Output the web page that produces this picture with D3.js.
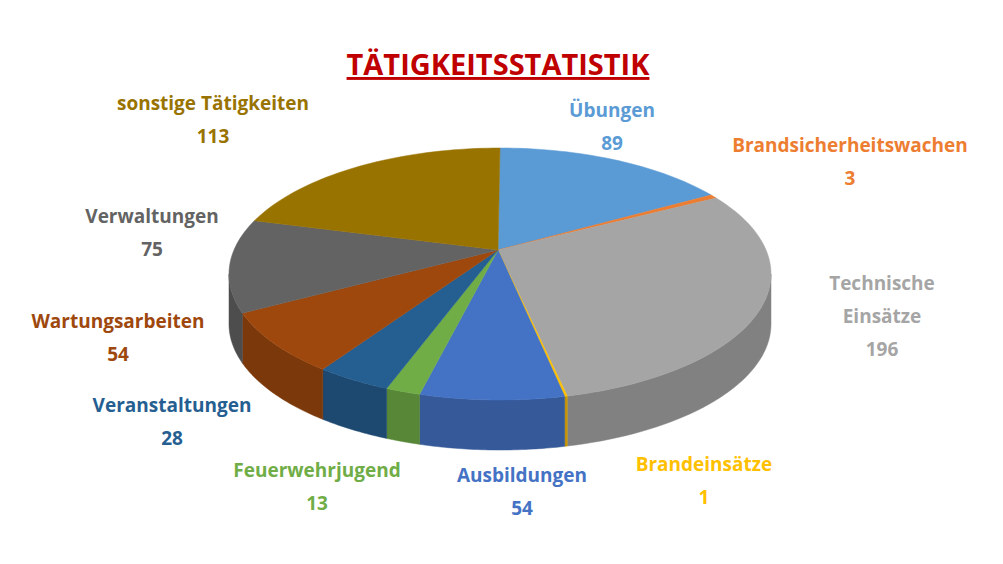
<!DOCTYPE html>
<html><head><meta charset="utf-8">
<script src="https://cdn.jsdelivr.net/npm/d3@7"></script>
<style>body{margin:0;background:#fff}</style>
</head><body>
<svg id="c" width="1003" height="564"></svg>
<script>
const categories = ["Übungen","Brandsicherheitswachen","Technische Einsätze","Brandeinsätze","Ausbildungen","Feuerwehrjugend","Veranstaltungen","Wartungsarbeiten","Verwaltungen","sonstige Tätigkeiten"];
const values = [89,3,196,1,54,13,28,54,75,113];
const colors = ["#5B9BD5","#ED7D31","#A5A5A5","#FFC000","#4472C4","#70AD47","#255E91","#9E480E","#636363","#997300"];
// label lines and anchor spots
const labelLines = [["Übungen","89"],["Brandsicherheitswachen","3"],["Technische","Einsätze","196"],["Brandeinsätze","1"],["Ausbildungen","54"],["Feuerwehrjugend","13"],["Veranstaltungen","28"],["Wartungsarbeiten","54"],["Verwaltungen","75"],["sonstige Tätigkeiten","113"]];
const labelPos = [[612,112],[850,147],[882,285],[704,466],[522,477],[317,472],[172,407],[118,323],[152,218],[213,105]];

const svg = d3.select("#c");
const cx = 500, cy = 274, rx = 271, ry = 126, depth = 50;
const apex = [498, 250]; // perspective: centre sits above the ellipse middle
const pt = (a, dy) => [cx + rx*Math.sin(a), cy - ry*Math.cos(a) + (dy||0)];

const arcs = d3.pie().sort(null).value(d => d)(values);

// sides (front half only)
arcs.forEach((d, i) => {
  const a0 = Math.max(d.startAngle, Math.PI/2), a1 = Math.min(d.endAngle, 3*Math.PI/2);
  if (a1 <= a0) return;
  const n = 40, top = [], bot = [];
  for (let k = 0; k <= n; k++) {
    const a = a0 + (a1-a0)*k/n;
    top.push(pt(a)); bot.push(pt(a, depth));
  }
  const poly = top.concat(bot.reverse());
  svg.append("path").attr("d", "M" + poly.map(p => p.join(",")).join("L") + "Z")
    .attr("fill", d3.color(colors[i]).darker(0.7)).attr("stroke", d3.color(colors[i]).darker(0.7)).attr("stroke-width", 0.5);
});

// tops
arcs.forEach((d, i) => {
  const n = Math.max(2, Math.ceil((d.endAngle-d.startAngle)*40));
  const p = [apex];
  for (let k = 0; k <= n; k++) p.push(pt(d.startAngle + (d.endAngle-d.startAngle)*k/n));
  svg.append("path").attr("d", "M" + p.map(q => q.join(",")).join("L") + "Z")
    .attr("fill", colors[i]).attr("stroke", colors[i]).attr("stroke-width", 0.5);
});

// title
svg.append("text").attr("x", 498).attr("y", 75).attr("text-anchor", "middle")
  .attr("font-family", "Open Sans, sans-serif").attr("font-weight", "bold").attr("font-size", 29)
  .attr("fill", "#C00000").attr("text-decoration", "underline").text("TÄTIGKEITSSTATISTIK");

// labels
labelLines.forEach((lines, i) => {
  const t = svg.append("text").attr("text-anchor", "middle")
    .attr("font-family", "Open Sans, sans-serif").attr("font-weight", "bold").attr("font-size", 19)
    .attr("fill", colors[i]);
  lines.forEach((s, j) => t.append("tspan").attr("x", labelPos[i][0]).attr("y", labelPos[i][1] + j*33)
    .attr("dominant-baseline", "middle").text(s));
});
</script>
</body></html>
